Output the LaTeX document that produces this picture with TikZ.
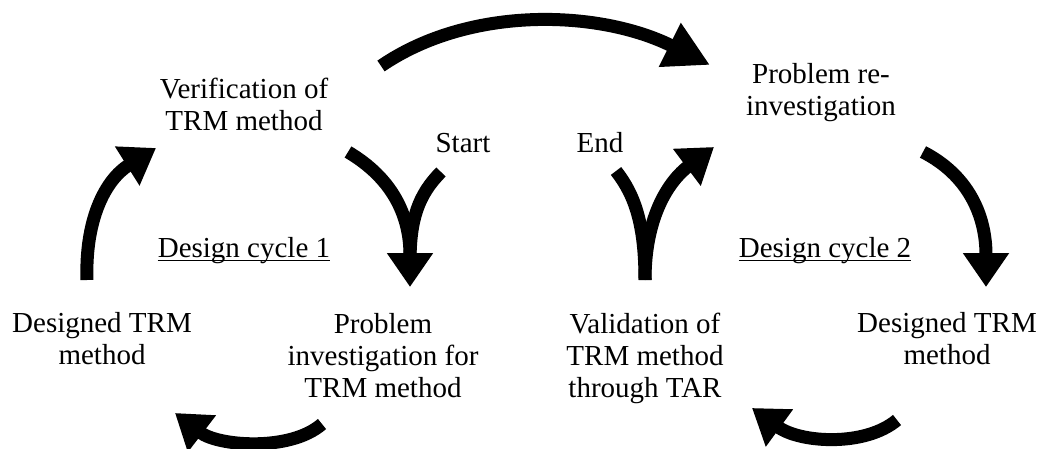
\documentclass[tikz,border=0pt]{standalone}
\usepackage{fontspec}
\setmainfont{Liberation Serif}
\usetikzlibrary{arrows.meta}
\tikzset{
  lbl/.style={font=\fontsize{29pt}{32pt}\selectfont, align=center, inner sep=0pt, anchor=base},
  flow/.style={line width=13pt, line cap=butt},
  bighead/.style={-{Triangle[length=45pt,width=46pt]}},
  head/.style={-{Triangle[length=34pt,width=44pt]}},
  uline/.style={line width=1.4pt}
}
\begin{document}
\begin{tikzpicture}[x=1pt,y=-1pt]
\useasboundingbox (0,0) rectangle (1043,449);

% text blocks (positioned at the baseline of their last line)
\node[lbl] (verif) at (244,131) {Verification of\\TRM method};
\node[lbl] (reinv) at (821,116) {Problem re-\\investigation};
\node[lbl] (start) at (463,153) {Start};
\node[lbl] (finish) at (600,153) {End};
\node[lbl] (dc1) at (244,257) {Design cycle 1};
\node[lbl] (dc2) at (825,257) {Design cycle 2};
\node[lbl] (des1) at (102,364) {Designed TRM\\method};
\node[lbl] (probinv) at (383,397) {Problem\\investigation for\\TRM method};
\node[lbl] (valid) at (645,397) {Validation of\\TRM method\\through TAR};
\node[lbl] (des2) at (947,364) {Designed TRM\\method};

% underlines
\draw[uline] ([yshift=-3.5pt]dc1.base west) -- ([yshift=-3.5pt]dc1.base east);
\draw[uline] ([yshift=-3.5pt]dc2.base west) -- ([yshift=-3.5pt]dc2.base east);

% arrow end points
\coordinate (a1s) at (381,66);  \coordinate (a1e) at (710,65);
\coordinate (sL) at (348,152);  \coordinate (sR) at (441,172);
\coordinate (sT) at (410,287);  \coordinate (sJ) at (410,262);
\coordinate (eB) at (645,280);  \coordinate (eL) at (616,171);
\coordinate (eT) at (714,147);
\coordinate (lS) at (87,280);   \coordinate (lT) at (156,148);
\coordinate (rS) at (923,152);  \coordinate (rT) at (986,287);
\coordinate (blS) at (322,424); \coordinate (blT) at (175,413);
\coordinate (brS) at (897,420); \coordinate (brT) at (752,408);

% cycle arrows
\draw[flow,bighead] (a1s) .. controls (470,5) and (600,10) .. (a1e);
\draw[flow,head] (sL) .. controls (392,178) and (410,215) .. (sT);
\draw[flow] (sR) .. controls (418,195) and (410,220) .. (sJ);
\draw[flow,head] (eB) .. controls (645,215) and (670,180) .. (eT);
\draw[flow] (eB) .. controls (645,225) and (635,195) .. (eL);
\draw[flow,head] (lS) .. controls (85,220) and (105,180) .. (lT);
\draw[flow,head] (rS) .. controls (968,175) and (986,215) .. (rT);
\draw[flow,head] (blS) .. controls (290,452) and (218,446) .. (blT);
\draw[flow,head] (brS) .. controls (865,447) and (800,443) .. (brT);
\end{tikzpicture}
\end{document}
